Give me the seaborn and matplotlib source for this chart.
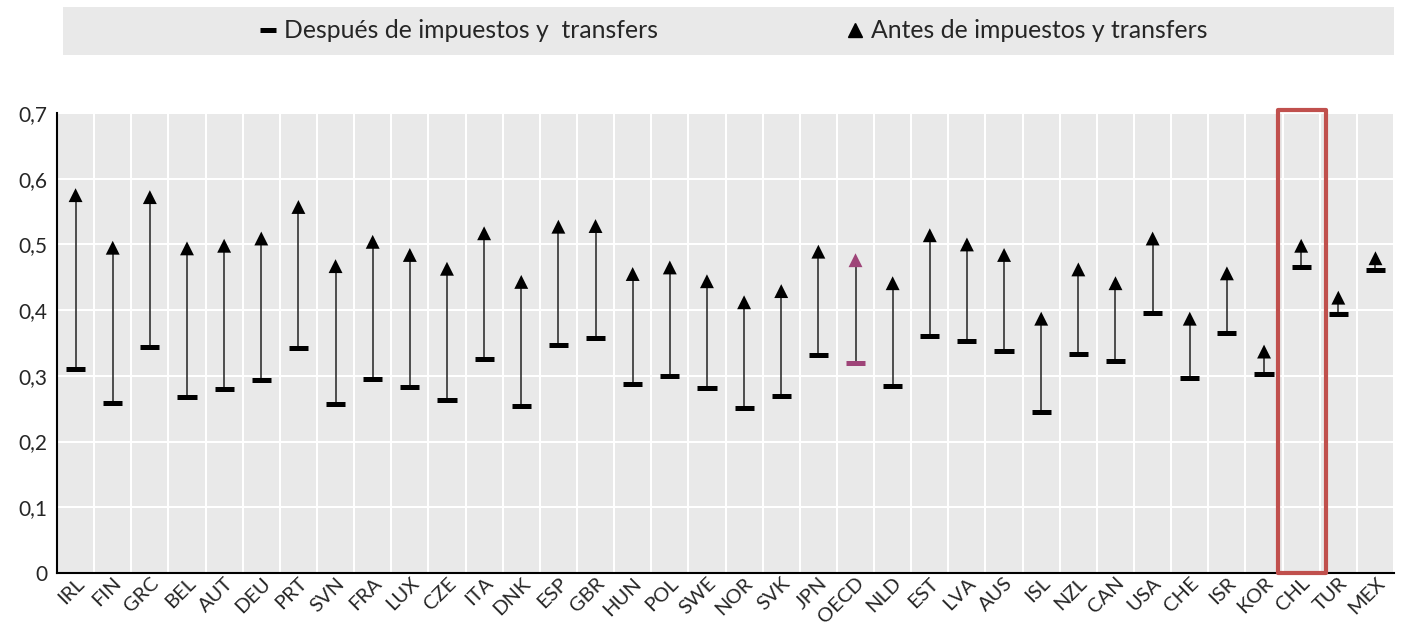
import matplotlib
matplotlib.use("Agg")
import matplotlib.pyplot as plt
import matplotlib.patches as mpatches
import matplotlib.transforms as mtransforms
from matplotlib.lines import Line2D
import pandas as pd
import seaborn as sns

# data
countries = ["IRL", "FIN", "GRC", "BEL", "AUT", "DEU", "PRT", "SVN", "FRA", "LUX",
             "CZE", "ITA", "DNK", "ESP", "GBR", "HUN", "POL", "SWE", "NOR", "SVK",
             "JPN", "OECD", "NLD", "EST", "LVA", "AUS", "ISL", "NZL", "CAN", "USA",
             "CHE", "ISR", "KOR", "CHL", "TUR", "MEX"]
before = [0.575, 0.495, 0.572, 0.494, 0.498, 0.509, 0.557, 0.467, 0.504, 0.484,
          0.463, 0.517, 0.443, 0.527, 0.528, 0.455, 0.465, 0.444, 0.412, 0.429,
          0.489, 0.476, 0.441, 0.514, 0.500, 0.484, 0.387, 0.462, 0.441, 0.509,
          0.387, 0.456, 0.337, 0.498, 0.419, 0.479]
after = [0.310, 0.259, 0.344, 0.268, 0.280, 0.293, 0.342, 0.257, 0.295, 0.283,
         0.263, 0.326, 0.254, 0.347, 0.358, 0.288, 0.300, 0.282, 0.251, 0.270,
         0.331, 0.319, 0.284, 0.361, 0.353, 0.338, 0.245, 0.334, 0.323, 0.395,
         0.296, 0.365, 0.303, 0.466, 0.394, 0.461]
highlight = "CHL"
oecd = "OECD"

label_after = "Después de impuestos y  transfers"
label_before = "Antes de impuestos y transfers"

df = pd.DataFrame({"country": countries, "before": before, "after": after})
df["colour"] = ["#9e4478" if c == oecd else "black" for c in countries]

sns.set_theme(style="white")
plt.rcParams["font.family"] = ["Lato", "DejaVu Sans"]

fig = plt.figure(figsize=(14.04, 6.31), dpi=100)
ax = fig.add_axes([0.0406, 0.0919, 0.9523, 0.729])
ax.set_facecolor("#e9e9e9")

# connecting lines
pos = range(len(countries))
ax.vlines(pos, df["after"], df["before"], color="#222222", lw=1.1, zorder=2)

pal = {"black": "black", "#9e4478": "#9e4478"}
sns.scatterplot(data=df, x="country", y="after", hue="colour", palette=pal,
                marker="_", s=190, linewidth=3.6, legend=False, ax=ax, zorder=3)
sns.scatterplot(data=df, x="country", y="before", hue="colour", palette=pal,
                marker="^", s=100, linewidth=0, legend=False, ax=ax, zorder=3)

ax.set_xlim(-0.5, len(countries) - 0.5)
ax.set_ylim(0, 0.7)
ax.set_yticks([i / 10 for i in range(8)])
ax.set_yticklabels(["0"] + [f"0,{i}" for i in range(1, 8)], fontsize=15)
ax.set_xticks([i + 0.5 for i in range(len(countries))], minor=True)
ax.set_xticks(list(pos))
ax.set_xticklabels(countries, rotation=45, ha="right", rotation_mode="anchor", fontsize=14.5)
offset = mtransforms.ScaledTranslation(11 / 100, 0, fig.dpi_scale_trans)
for lab in ax.get_xticklabels():
    lab.set_transform(lab.get_transform() + offset)
ax.tick_params(axis="x", which="major", length=0, pad=1)
ax.tick_params(axis="x", which="minor", direction="in", length=5, width=1.2, color="black")
ax.tick_params(axis="y", direction="in", length=5, width=1.2, color="black", pad=7)

ax.grid(False)
ax.yaxis.grid(True, color="white", lw=1.5)
ax.xaxis.grid(True, which="minor", color="white", lw=1.5)
ax.set_axisbelow(True)
for side in ["top", "right"]:
    ax.spines[side].set_visible(False)
for side in ["left", "bottom"]:
    ax.spines[side].set_color("black")
    ax.spines[side].set_linewidth(1.5)
ax.set_xlabel("")
ax.set_ylabel("")

# highlight box around Chile
hi = countries.index(highlight)
ax.add_patch(mpatches.Rectangle((hi - 0.62, 0), 1.3, 0.705, fill=False, edgecolor="#c0504d",
                                lw=3, joinstyle="round", clip_on=False, zorder=4))

# legend band
fig.patches.append(mpatches.Rectangle((0.0449, 0.913), 0.948, 0.076, transform=fig.transFigure,
                                      facecolor="#e9e9e9", edgecolor="none", zorder=0))
handles = [Line2D([], [], color="black", marker="_", ls="none", markersize=12, markeredgewidth=3.6),
           Line2D([], [], color="black", marker="^", ls="none", markersize=10)]
fig.legend(handles, [label_after, label_before], loc="center", bbox_to_anchor=(0.5224, 0.951),
           ncol=2, frameon=False, fontsize=17.8, handlelength=0.7, handletextpad=0.3,
           columnspacing=7.6)

fig.savefig("out.png", dpi=100)
